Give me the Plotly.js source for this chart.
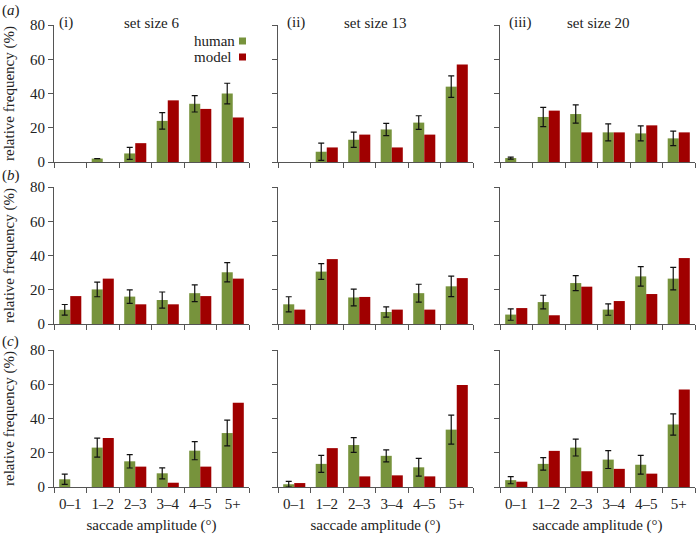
<!DOCTYPE html>
<html>
<head>
<meta charset="utf-8">
<script src="https://cdn.plot.ly/plotly-3.0.1.min.js"></script>
<style>html,body{margin:0;padding:0;background:#fff;font-family:'Liberation Serif';} #chart{width:696px;height:534px;}</style>
</head>
<body>
<div id="chart"></div>
<script>
// Categories (saccade amplitude bins)
var categories = ['0–1', '1–2', '2–3', '3–4', '4–5', '5+'];
var yTicks = [0, 20, 40, 60, 80];

// Row (a)
var a6_human   = [null, 2, 5, 24, 34, 40];
var a6_err     = [null, null, 3.5, 4.8, 4.8, 6];
var a6_model   = [0, 0, 11, 36, 31, 26];
var a13_human  = [null, 6, 13, 19, 23, 44];
var a13_err    = [null, 5, 4.5, 3.6, 4, 6.3];
var a13_model  = [0, 8.5, 16, 8.5, 16, 57];
var a20_human  = [2.3, 26.3, 28, 17.3, 16.7, 13.8];
var a20_err    = [0.6, 5.6, 5.3, 5, 4.4, 4.2];
var a20_model  = [0, 30, 17.3, 17.3, 21.4, 17.3];

// Row (b)
var b6_human   = [8.3, 20.2, 16, 14, 18, 30.2];
var b6_err     = [3.1, 4.3, 3.9, 4.7, 4.9, 5.6];
var b6_model   = [16.3, 26.5, 11.5, 11.5, 16.3, 26.5];
var b13_human  = [11.5, 30.6, 15.5, 7, 18, 22];
var b13_err    = [4.4, 4.6, 4.9, 3, 5.2, 6];
var b13_model  = [8.4, 37.9, 15.8, 8.4, 8.4, 26.8];
var b20_human  = [5.5, 12.8, 23.9, 8.4, 27.8, 26.5];
var b20_err    = [3.3, 4, 4.4, 3.3, 5.7, 6.6];
var b20_model  = [9.3, 5.1, 21.8, 13.4, 17.5, 38.5];

// Row (c)
var c6_human   = [4.5, 23, 15, 8, 21.2, 31.5];
var c6_err     = [3, 5.5, 3.9, 3.2, 5.3, 7.5];
var c6_model   = [0, 28.6, 11.9, 2.5, 11.9, 49.2];
var c13_human  = [1.6, 13.5, 24.5, 18.2, 11.5, 33.5];
var c13_err    = [1.7, 5, 4.3, 3.5, 5.2, 8.5];
var c13_model  = [2.3, 22.7, 6.2, 6.8, 6.2, 59.6];
var c20_human  = [4, 13.5, 23, 16, 13, 36.5];
var c20_err    = [2.1, 3.6, 4.9, 5.2, 5.5, 6.2];
var c20_model  = [3.1, 21.1, 9.2, 10.6, 7.8, 56.9];

var panelTitles = ['set size 6', 'set size 13', 'set size 20'];
var panelNumerals = ['(i)', '(ii)', '(iii)'];
var rowLetters = ['(<i>a</i>)', '(<i>b</i>)', '(<i>c</i>)'];

var GREEN = '#77933c', RED = '#a00000';
var SERIF = 'Liberation Serif';
var TXT = '#222';
var W = 696, H = 534;

var panels = [
  [a6_human, a6_err, a6_model], [a13_human, a13_err, a13_model], [a20_human, a20_err, a20_model],
  [b6_human, b6_err, b6_model], [b13_human, b13_err, b13_model], [b20_human, b20_err, b20_model],
  [c6_human, c6_err, c6_model], [c13_human, c13_err, c13_model], [c20_human, c20_err, c20_model]
];

var xDom = [[54, 249], [278, 473], [500, 695]];
var yDom = [[25, 162], [187, 324], [350, 487]];

function f() { return {family: SERIF, size: 15, color: TXT}; }

var data = [];
var layout = {
  width: W, height: H,
  margin: {l: 0, r: 0, t: 0, b: 0},
  paper_bgcolor: '#fff', plot_bgcolor: '#fff',
  showlegend: false,
  barmode: 'group', bargap: 0.32, bargroupgap: 0,
  font: f(),
  annotations: [], shapes: []
};

panels.forEach(function (p, i) {
  var r = Math.floor(i / 3), c = i % 3;
  var sfx = i === 0 ? '' : String(i + 1);
  var xa = 'x' + sfx, ya = 'y' + sfx;
  data.push({
    type: 'bar', x: categories, y: p[0], xaxis: xa, yaxis: ya, name: 'human',
    marker: {color: GREEN},
    error_y: {type: 'data', array: p[1], visible: true, color: '#111', thickness: 1.2, width: 3}
  });
  data.push({
    type: 'bar', x: categories, y: p[2], xaxis: xa, yaxis: ya, name: 'model',
    marker: {color: RED}
  });
  var bottom = (r === 2);
  layout['xaxis' + sfx] = {
    domain: [xDom[c][0] / W, xDom[c][1] / W],
    anchor: ya, type: 'category', range: [-0.5, 5.5], fixedrange: true,
    showline: true, linecolor: '#555', linewidth: 1,
    ticks: 'outside', tickson: 'boundaries', ticklen: 5, tickcolor: '#555',
    ticklabelstandoff: 3,
    showgrid: false, zeroline: false,
    showticklabels: bottom, tickfont: f(),
    title: bottom ? {text: 'saccade amplitude (°)', font: f()} : {text: ''}
  };
  layout['yaxis' + sfx] = {
    domain: [1 - yDom[r][1] / H, 1 - yDom[r][0] / H],
    anchor: xa, range: [0, 80], fixedrange: true,
    tickvals: yTicks, ticks: 'outside', ticklen: 5, tickcolor: '#555',
    showline: true, linecolor: '#555', linewidth: 1,
    showgrid: false, zeroline: false,
    showticklabels: c === 0, tickfont: f(),
    title: c === 0 ? {text: 'relative frequency (%)', font: f()} : {text: ''}
  };
});

// Panel headings
var numX = [66, 296, 520], titleX = [151, 375, 598];
for (var k = 0; k < 3; k++) {
  layout.annotations.push({xref: 'paper', yref: 'paper', x: numX[k] / W, y: 1 - 23 / H,
    text: panelNumerals[k], showarrow: false, xanchor: 'center', yanchor: 'middle', font: f()});
  layout.annotations.push({xref: 'paper', yref: 'paper', x: titleX[k] / W, y: 1 - 23 / H,
    text: panelTitles[k], showarrow: false, xanchor: 'center', yanchor: 'middle', font: f()});
}
// Row letters
var letterY = [10, 176, 341];
for (var m = 0; m < 3; m++) {
  layout.annotations.push({xref: 'paper', yref: 'paper', x: 0, y: 1 - letterY[m] / H,
    text: rowLetters[m], showarrow: false, xanchor: 'left', yanchor: 'middle', font: f()});
}
// Legend (text left, key square right)
var legItems = [['human', GREEN, 41], ['model', RED, 57]];
legItems.forEach(function (it) {
  layout.annotations.push({xref: 'paper', yref: 'paper', x: 192 / W, y: 1 - it[2] / H,
    text: it[0], showarrow: false, xanchor: 'left', yanchor: 'middle', font: f()});
  layout.shapes.push({type: 'rect', xref: 'paper', yref: 'paper',
    x0: 239 / W, x1: 246 / W, y0: 1 - (it[2] + 3.5) / H, y1: 1 - (it[2] - 3.5) / H,
    fillcolor: it[1], line: {width: 0}});
});

Plotly.newPlot('chart', data, layout, {displayModeBar: false});
</script>
</body>
</html>
